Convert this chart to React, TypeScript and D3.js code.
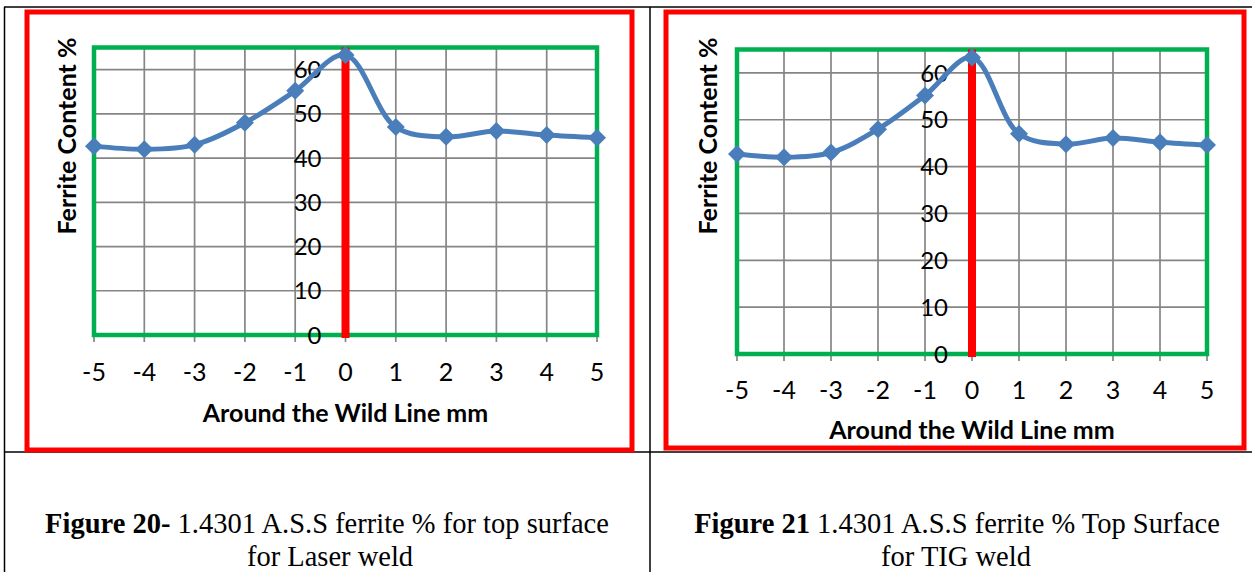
import React from "react";
import * as d3 from "d3";

const positions = [-5, -4, -3, -2, -1, 0, 1, 2, 3, 4, 5];
const laserValues = [42.7, 42, 43, 48, 55.2, 63.3, 47, 44.8, 46.1, 45.2, 44.6];
const tigValues = [42.7, 42, 43, 48, 55.2, 63.3, 47, 44.8, 46.1, 45.2, 44.6];
const yTicks = [0, 10, 20, 30, 40, 50, 60];
const yMax = 65;
const yTitle = "Ferrite Content %";
const xTitle = "Around the Wild Line mm";

type ChartProps = {
  values: number[];
  frame: [number, number, number, number];
  plot: [number, number, number, number];
  yTitleX: number;
  tickLabelY: number;
  xTitleY: number;
};

function Chart({ values, frame, plot, yTitleX, tickLabelY, xTitleY }: ChartProps) {
  const [fx0, fy0, fx1, fy1] = frame;
  const [px0, py0, px1, py1] = plot;
  const x = d3.scaleLinear().domain([-5, 5]).range([px0, px1]);
  const y = d3.scaleLinear().domain([0, yMax]).range([py1, py0]);
  const pts: [number, number][] = positions.map((p, i) => [x(p), y(values[i])]);
  const line = d3.line().curve(d3.curveCatmullRom.alpha(0.5))(pts) || "";
  const grid = "#858585";
  const d = 9;
  return (
    <g>
      <rect x={fx0} y={fy0} width={fx1 - fx0} height={fy1 - fy0} fill="none" stroke="#ff0000" strokeWidth={5} />
      {yTicks.filter((t) => t > 0).map((t) => (
        <line key={"h" + t} x1={px0} x2={px1} y1={y(t)} y2={y(t)} stroke={grid} strokeWidth={1.7} />
      ))}
      {positions.map((p) => (
        <line key={"v" + p} x1={x(p)} x2={x(p)} y1={py0} y2={py1 + 7} stroke={grid} strokeWidth={1.7} />
      ))}
      <rect x={px0} y={py0} width={px1 - px0} height={py1 - py0} fill="none" stroke="#00b050" strokeWidth={4.5} />
      {yTicks.map((t) => (
        <text key={"yl" + t} x={x(0) - 24} y={y(t)} dy="0.36em" textAnchor="end"
          fontFamily="Lato" fontSize={24} fill="#000">{t}</text>
      ))}
      <line x1={x(0)} x2={x(0)} y1={py0} y2={py1 + 3} stroke="#ff0000" strokeWidth={8} />
      <path d={line} fill="none" stroke="#4a7ebb" strokeWidth={5} strokeLinejoin="round" />
      {pts.map(([cx, cy], i) => (
        <path key={"m" + i} d={`M${cx},${cy - d}L${cx + d},${cy}L${cx},${cy + d}L${cx - d},${cy}Z`} fill="#4a7ebb" />
      ))}
      {positions.map((p) => (
        <text key={"xl" + p} x={x(p)} y={tickLabelY} dy="0.36em" textAnchor="middle"
          fontFamily="Lato" fontSize={25} fill="#000">{p}</text>
      ))}
      <text x={(px0 + px1) / 2} y={xTitleY} dy="0.36em" textAnchor="middle"
        fontFamily="Lato" fontWeight="bold" fontSize={25} fill="#000">{xTitle}</text>
      <text transform={`translate(${yTitleX},136) rotate(-90)`} dy="0.36em" textAnchor="middle"
        fontFamily="Lato" fontWeight="bold" fontSize={25} fill="#000">{yTitle}</text>
    </g>
  );
}

export default function App() {
  const W = 1253, H = 572;
  return (
    <svg width={W} height={H} style={{ position: "absolute", left: 0, top: 0, background: "#fff" }}>
      <rect x={0} y={0} width={W} height={H} fill="#fff" />
      <line x1={4} x2={1252} y1={7} y2={7} stroke="#000" strokeWidth={1.5} />
      <line x1={4} x2={1252} y1={452} y2={452} stroke="#000" strokeWidth={1.5} />
      <line x1={4.5} x2={4.5} y1={7} y2={H} stroke="#000" strokeWidth={1.5} />
      <line x1={650} x2={650} y1={7} y2={H} stroke="#000" strokeWidth={1.5} />
      <Chart values={laserValues} frame={[27, 12, 632, 450]} plot={[94, 47.5, 597, 335]}
        yTitleX={67} tickLabelY={372} xTitleY={413} />
      <Chart values={tigValues} frame={[666, 12, 1244, 448]} plot={[737, 49.5, 1207, 354]}
        yTitleX={708} tickLabelY={390} xTitleY={430} />
      <g fontFamily="'Liberation Serif', 'Times New Roman', serif" fontSize={28.5} fill="#000" textAnchor="middle">
        <text x={327} y={533}><tspan fontWeight="bold">Figure 20-</tspan> 1.4301 A.S.S ferrite % for top surface</text>
        <text x={330} y={566}>for Laser weld</text>
        <text x={957} y={533}><tspan fontWeight="bold">Figure 21</tspan> 1.4301 A.S.S ferrite % Top Surface</text>
        <text x={956} y={566}>for TIG weld</text>
      </g>
    </svg>
  );
}
